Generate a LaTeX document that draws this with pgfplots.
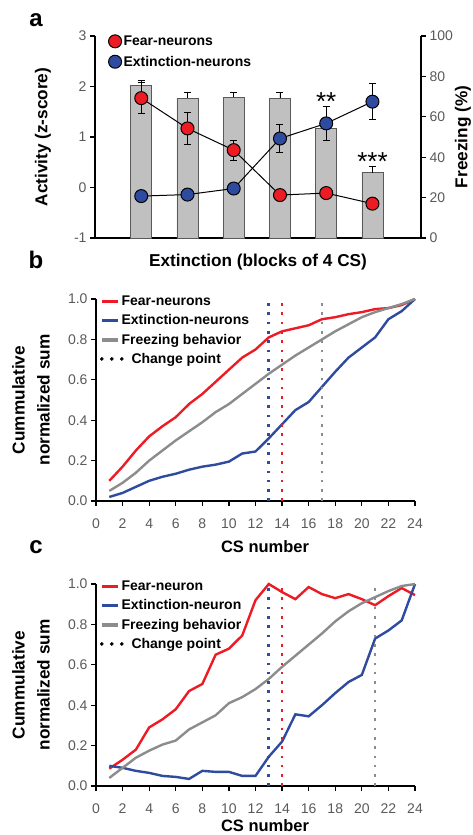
\documentclass[border=0pt]{standalone}
\usepackage{fontspec}
\setmainfont{Liberation Sans}
\usepackage{pgfplots}
\pgfplotsset{compat=1.18}

\definecolor{fearred}{HTML}{ED1C24}
\definecolor{extblue}{HTML}{2E4B9F}
\definecolor{freezegray}{HTML}{8C8C8C}
\definecolor{ticktxt}{HTML}{5A5A5A}
\definecolor{barfill}{HTML}{C0C0C0}

\pgfplotsset{
  panel/.style={
    scale only axis,
    anchor=south west,
    clip=false,
    tick label style={font=\fontsize{14}{14}\selectfont, text=ticktxt},
    /pgf/number format/assume math mode=true,
    label style={font=\fontsize{17.2}{25}\selectfont\bfseries},
    axis line style={line width=1.6pt},
    major tick length=5pt,
    tick style={line width=1.2pt, black},
    tick align=outside,
  },
  curvepanel/.style={
    panel,
    width=319pt, height=202pt,
    xmin=0, xmax=24, ymin=0, ymax=1,
    axis lines*=left,
    xtick={0,2,...,24},
    ytick={0,0.2,0.4,0.6,0.8,1},
    xticklabel style={yshift=-9pt},
    yticklabel style={/pgf/number format/.cd, fixed, fixed zerofill, precision=1},
    xlabel={CS number},
    legend style={at={(axis description cs:0.012,1.025)}, anchor=north west,
      draw=none, fill=none, font=\fontsize{14}{14}\selectfont\bfseries,
      row sep=3.5pt, inner sep=0pt},
    legend cell align=left,
    legend image code/.code={\draw[##1, line width=3.5pt] (0pt,0pt) -- (16pt,0pt);},
  },
  change/.style={line width=2.6pt, dash pattern=on 2.6pt off 6.7pt, line cap=butt, forget plot},
  dotslegend/.style={legend image code/.code={\path[draw=none] (0pt,0pt) -- (16pt,0pt);
      \fill[black, overlay] (0pt,0pt) circle (1.6pt) (10pt,0pt) circle (1.6pt) (20pt,0pt) circle (1.6pt);}},
}

\begin{document}
\begin{tikzpicture}
\path[use as bounding box] (0,0) rectangle (473pt,-835pt);

% ---- panel a: freezing bars (right axis)
\begin{axis}[panel, at={(95pt,-238pt)}, width=326pt, height=202pt,
  xmin=0, xmax=7.05, ymin=0, ymax=100,
  axis x line*=bottom, axis y line*=right,
  xtick=\empty, ytick={0,20,...,100},
  ylabel={Freezing (\%)},
  ylabel style={at={(axis description cs:1.129,0.5)}, anchor=center},
  xlabel={Extinction (blocks of 4 CS)},
  xlabel style={at={(axis description cs:0.5,-0.119)}, anchor=center},
]
\addplot[ybar, bar width=21pt, fill=barfill, draw=gray!70!black, line width=0.6pt,
  error bars/.cd, y dir=plus, y explicit,
  error bar style={line width=0.9pt, black},
  error mark options={rotate=90, mark size=3.5pt, line width=0.9pt, black}]
coordinates {
  (1,75.7) +- (0,2.5)
  (2,69.2) +- (0,3.0)
  (3,69.6) +- (0,2.5)
  (4,69.2) +- (0,3.0)
  (5,54.3) +- (0,3.0)
  (6,32.3) +- (0,3.2)
};
\node[font=\fontsize{26}{26}\selectfont] at (axis cs:5,67.3) {**};
\node[font=\fontsize{26}{26}\selectfont] at (axis cs:6,37.8) {***};
\end{axis}

% ---- panel a: neuron activity (left axis)
\begin{axis}[panel, at={(95pt,-238pt)}, width=326pt, height=202pt,
  xmin=0, xmax=7.05, ymin=-1, ymax=3,
  axis y line*=left, axis x line=none,
  ytick={-1,0,1,2,3},
  ylabel={Activity (z-score)},
  ylabel style={at={(axis description cs:-0.16,0.5)}, anchor=center},
  legend style={at={(axis description cs:0.041,1.012)}, anchor=north west,
    draw=none, fill=none, font=\fontsize{14}{14}\selectfont\bfseries,
    row sep=5pt, inner sep=0pt},
  legend cell align=left,
]
\addplot[black, line width=1pt, mark=*, mark size=6.5pt,
  mark options={fill=fearred, draw=black, line width=1pt}, forget plot,
  error bars/.cd, y dir=both, y explicit,
  error bar style={line width=1pt, black},
  error mark options={rotate=90, mark size=3.5pt, line width=1pt, black}]
coordinates {
  (1,1.77) +- (0,0.31)
  (2,1.17) +- (0,0.32)
  (3,0.74) +- (0,0.20)
  (4,-0.15) +- (0,0.08)
  (5,-0.11) +- (0,0.08)
  (6,-0.32) +- (0,0.08)
};
\addplot[black, line width=1pt, mark=*, mark size=6.5pt,
  mark options={fill=extblue, draw=black, line width=1pt}, forget plot,
  error bars/.cd, y dir=both, y explicit,
  error bar style={line width=1pt, black},
  error mark options={rotate=90, mark size=3.5pt, line width=1pt, black}]
coordinates {
  (1,-0.17) +- (0,0.08)
  (2,-0.14) +- (0,0.08)
  (3,-0.02) +- (0,0.08)
  (4,0.97) +- (0,0.28)
  (5,1.27) +- (0,0.33)
  (6,1.70) +- (0,0.35)
};
\addlegendimage{only marks, mark=*, mark size=6.5pt, mark options={fill=fearred, draw=black, line width=1pt}}
\addlegendentry{Fear-neurons}
\addlegendimage{only marks, mark=*, mark size=6.5pt, mark options={fill=extblue, draw=black, line width=1pt}}
\addlegendentry{Extinction-neurons}
\end{axis}

% ---- panel b
\begin{axis}[curvepanel, at={(96pt,-501pt)},
  xlabel style={at={(axis description cs:0.53,-0.228)}, anchor=center, font=\fontsize{16.5}{20}\selectfont\bfseries},
]
\addplot[fearred, line width=2.4pt] coordinates {
  (1,0.10) (2,0.17) (3,0.25) (4,0.32) (5,0.37) (6,0.415) (7,0.48) (8,0.53)
  (9,0.59) (10,0.65) (11,0.71) (12,0.75) (13,0.81) (14,0.84) (15,0.855) (16,0.87)
  (17,0.90) (18,0.91) (19,0.925) (20,0.935) (21,0.95) (22,0.955) (23,0.97) (24,1.0)
};
\addlegendentry{Fear-neurons}
\addplot[extblue, line width=2.4pt] coordinates {
  (1,0.02) (2,0.04) (3,0.07) (4,0.10) (5,0.12) (6,0.135) (7,0.155) (8,0.17)
  (9,0.18) (10,0.195) (11,0.235) (12,0.245) (13,0.31) (14,0.38) (15,0.45) (16,0.49)
  (17,0.565) (18,0.64) (19,0.71) (20,0.76) (21,0.81) (22,0.90) (23,0.94) (24,1.0)
};
\addlegendentry{Extinction-neurons}
\addplot[freezegray, line width=2.4pt] coordinates {
  (1,0.05) (2,0.09) (3,0.14) (4,0.20) (5,0.25) (6,0.30) (7,0.345) (8,0.39)
  (9,0.44) (10,0.48) (11,0.53) (12,0.58) (13,0.63) (14,0.675) (15,0.72) (16,0.76)
  (17,0.80) (18,0.84) (19,0.875) (20,0.91) (21,0.935) (22,0.955) (23,0.975) (24,1.0)
};
\addlegendentry{Freezing behavior}
\addlegendimage{black, mark=none, dotslegend}
\addlegendentry{\hspace{10pt}Change point}
\addplot[extblue, change] coordinates {(13,0) (13,1)};
\addplot[fearred, change] coordinates {(14,0) (14,1)};
\addplot[freezegray, change] coordinates {(17,0) (17,1)};
\end{axis}

% ---- panel c
\begin{axis}[curvepanel, at={(96pt,-786pt)},
  xlabel style={at={(axis description cs:0.53,-0.198)}, anchor=center, inner sep=0pt, font=\fontsize{16.5}{20}\selectfont\bfseries},
]
\addplot[fearred, line width=2.4pt] coordinates {
  (1,0.086) (2,0.13) (3,0.18) (4,0.29) (5,0.33) (6,0.38) (7,0.47) (8,0.505)
  (9,0.65) (10,0.68) (11,0.745) (12,0.92) (13,1.0) (14,0.96) (15,0.925) (16,0.985)
  (17,0.95) (18,0.93) (19,0.95) (20,0.925) (21,0.895) (22,0.94) (23,0.98) (24,0.945)
};
\addlegendentry{Fear-neuron}
\addplot[extblue, line width=2.4pt] coordinates {
  (1,0.10) (2,0.09) (3,0.075) (4,0.065) (5,0.05) (6,0.045) (7,0.035) (8,0.075)
  (9,0.07) (10,0.07) (11,0.05) (12,0.05) (13,0.145) (14,0.22) (15,0.355) (16,0.345)
  (17,0.40) (18,0.46) (19,0.515) (20,0.55) (21,0.73) (22,0.77) (23,0.82) (24,1.0)
};
\addlegendentry{Extinction-neuron}
\addplot[freezegray, line width=2.4pt] coordinates {
  (1,0.04) (2,0.09) (3,0.14) (4,0.175) (5,0.205) (6,0.225) (7,0.28) (8,0.315)
  (9,0.35) (10,0.41) (11,0.44) (12,0.48) (13,0.53) (14,0.59) (15,0.645) (16,0.70)
  (17,0.755) (18,0.815) (19,0.865) (20,0.905) (21,0.935) (22,0.965) (23,0.99) (24,1.0)
};
\addlegendentry{Freezing behavior}
\addlegendimage{black, mark=none, dotslegend}
\addlegendentry{\hspace{10pt}Change point}
\addplot[extblue, change] coordinates {(13,0) (13,1)};
\addplot[fearred, change] coordinates {(14,0) (14,1)};
\addplot[freezegray, change] coordinates {(21,0) (21,1)};
\end{axis}

% y labels of panels b and c
\node[rotate=90, align=center, font=\fontsize{17.2}{25}\selectfont\bfseries] at (31pt,-400pt) {Cummulative\\normalized sum};
\node[rotate=90, align=center, font=\fontsize{17.2}{25}\selectfont\bfseries] at (31pt,-685pt) {Cummulative\\normalized sum};

% panel letters
\node[font=\fontsize{24}{24}\selectfont\bfseries, anchor=base] at (36pt,-27pt) {a};
\node[font=\fontsize{24}{24}\selectfont\bfseries, anchor=base] at (36pt,-268pt) {b};
\node[font=\fontsize{24}{24}\selectfont\bfseries, anchor=base] at (36pt,-553pt) {c};
\end{tikzpicture}
\end{document}
